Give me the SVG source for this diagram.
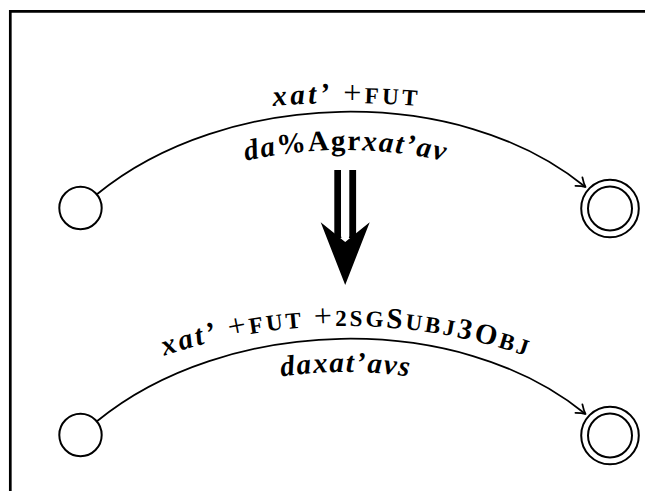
<svg xmlns="http://www.w3.org/2000/svg" xmlns:xlink="http://www.w3.org/1999/xlink" width="645" height="491" viewBox="0 0 645 491">
  <style>
    .state { fill: #fff; stroke: #000; stroke-width: 2; }
    .edge { fill: none; stroke: #000; stroke-width: 1.8; marker-end: url(#tip); }
    .lbl { font-family: "Liberation Serif", "Times New Roman", serif; font-size: 29px; fill: #000; }
    .bi { font-weight: bold; font-style: italic; }
    .b { font-weight: bold; font-style: normal; }
    .rm { font-weight: normal; font-style: normal; font-size: 32px; }
    .sc { font-weight: bold; font-style: normal; font-size: 23px; }
  </style>
  <defs>
    <marker id="tip" markerUnits="userSpaceOnUse" markerWidth="14" markerHeight="14" viewBox="-10 -7 12 14" refX="0" refY="0" orient="auto">
      <path d="M -8.5 -5.5 C -6 -3.5 -2 -0.8 0 0 C -2 0.8 -6 3.5 -8.5 5.5" fill="none" stroke="#000" stroke-width="1.8" stroke-linecap="round" stroke-linejoin="round"/>
    </marker>
    <!-- baselines for the edge labels -->
    <path id="p1" d="M 200 115 Q 345 91 490 115"/>
    <path id="p2" d="M 150 192 Q 345 108 540 192"/>
    <path id="p3" d="M 100 382.3 A 561 561 0 0 1 590 382.3"/>
    <path id="p4" d="M 150 414 Q 345 330 540 414"/>
  </defs>

  <rect width="645" height="491" fill="#fff"/>

  <!-- frame -->
  <path d="M 10.3 491 V 11.3 H 645" fill="none" stroke="#000" stroke-width="2.7"/>

  <!-- upper automaton -->
  <g id="q0-top">
    <circle class="state" cx="80.5" cy="208" r="21.2"/>
  </g>
  <g id="q1-top">
    <circle class="state" cx="610" cy="208.5" r="28.8"/>
    <circle class="state" cx="610" cy="208.5" r="22"/>
  </g>

  <!-- lower automaton -->
  <g id="q0-bottom">
    <circle class="state" cx="80.5" cy="435" r="21.2"/>
  </g>
  <g id="q1-bottom">
    <circle class="state" cx="610" cy="435.5" r="28.8"/>
    <circle class="state" cx="610" cy="435.5" r="22"/>
  </g>

  <g id="connectors">
    <path class="edge" d="M 96.6 194.5 C 225 89 457 82 585.5 187"/>
    <path class="edge" d="M 96.6 421.5 C 225 316 457 309 585.5 414"/>
  </g>

  <!-- edge labels -->
  <g id="labels">
    <text class="lbl"><textPath xlink:href="#p1" href="#p1" startOffset="50%" text-anchor="middle" textLength="144"><tspan class="bi">xat’</tspan> <tspan class="rm">+</tspan><tspan class="sc">FUT</tspan></textPath></text>
    <text class="lbl"><textPath xlink:href="#p2" href="#p2" startOffset="50%" text-anchor="middle" textLength="200"><tspan class="bi">da</tspan><tspan class="b">%Agr</tspan><tspan class="bi">xat’av</tspan></textPath></text>
    <text class="lbl"><textPath xlink:href="#p3" href="#p3" startOffset="50%" text-anchor="middle" textLength="368"><tspan class="bi">xat’</tspan> <tspan class="rm">+</tspan><tspan class="sc">FUT</tspan> <tspan class="rm">+</tspan><tspan class="sc">2SG</tspan><tspan class="b">S</tspan><tspan class="sc">UBJ</tspan><tspan class="b">3O</tspan><tspan class="sc">BJ</tspan></textPath></text>
    <text class="lbl"><textPath xlink:href="#p4" href="#p4" startOffset="50%" text-anchor="middle" textLength="128"><tspan class="bi">daxat’avs</tspan></textPath></text>
  </g>

  <!-- rewrite arrow between the two automata -->
  <g id="rewrite-arrow">
    <rect x="334.3" y="170" width="21.8" height="68" fill="#000"/>
    <path d="M 320.7 222.3 L 345.2 285 L 369.7 222.3 L 345.2 242 Z" fill="#000"/>
    <path d="M 341 170 V 236 A 4.15 4.15 0 0 0 349.3 236 V 170 Z" fill="#fff"/>
  </g>
</svg>
